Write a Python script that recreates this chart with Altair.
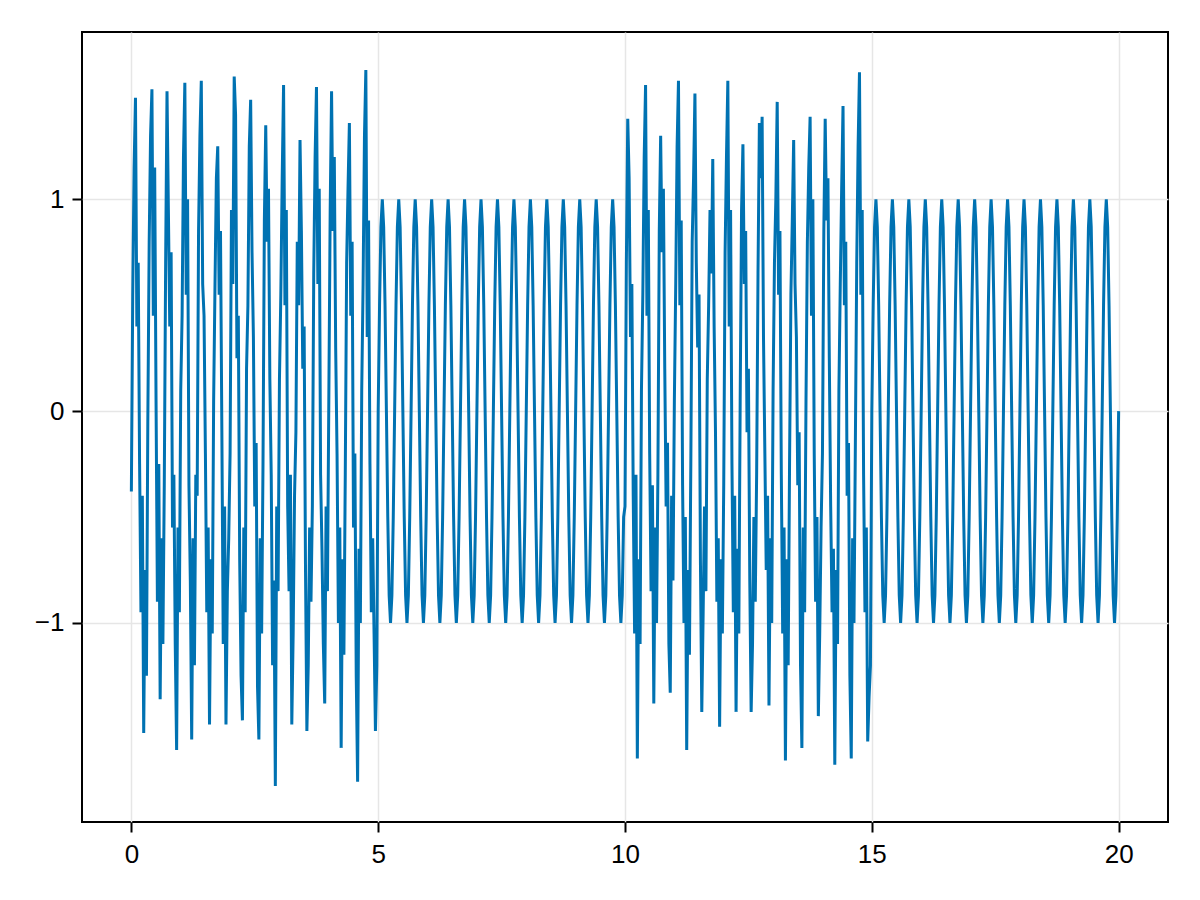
import altair as alt
import pandas as pd

# sampling step of the recording: 12 samples per 1/3 s cycle
STEP = 1 / 36

# 0 s – 5 s : noisy section (one row per cycle)
noisy_a = [
    -0.38, 0.55, 1.15, 1.48, 0.40, 0.70, -0.25, -0.95, -0.40, -1.52, -0.75, -1.25,
    -0.05, 0.80, 1.30, 1.52, 0.45, 1.15, 0.05, -0.90, -0.25, -1.36, -0.60, -1.10,
    -0.35, 0.70, 1.51, 0.95, 0.40, 0.75, -0.55, -0.30, -1.10, -1.60, -0.55, -0.95,
    0.10, 0.45, 1.20, 1.55, 0.55, 1.00, -0.35, -0.80, -1.55, -0.60, -1.20, -0.30,
    -0.40, 0.85, 1.30, 1.56, 0.60, 0.45, -0.20, -0.95, -0.55, -1.48, -0.70, -1.05,
    0.05, 0.60, 1.10, 1.25, 0.55, 0.85, -0.10, -1.10, -0.45, -1.48, -0.85, -0.60,
    -0.20, 0.95, 0.60, 1.58, 1.40, 0.25, 0.45, -0.70, -1.25, -1.46, -0.55, -0.95,
    0.20, 0.50, 1.25, 1.47, 0.75, 0.35, -0.45, -0.15, -1.30, -1.55, -0.60, -1.05,
    -0.25, 0.90, 1.35, 0.80, 1.05, 0.15, -0.30, -1.20, -0.80, -1.77, -0.45, -0.85,
    0.15, 0.55, 1.10, 1.54, 0.50, 0.95, -0.45, -0.85, -0.30, -1.48, -1.05, -0.40,
    -0.10, 0.80, 0.50, 1.28, 0.85, 0.20, 0.40, -0.75, -1.51, -1.20, -0.55, -0.90,
    -0.45, 0.65, 1.20, 1.53, 0.60, 1.05, -0.30, -0.65, -1.10, -1.38, -0.45, -0.85,
    0.05, 0.95, 1.51, 0.85, 1.20, 0.30, -0.20, -1.00, -0.55, -1.59, -0.70, -1.15,
    -0.30, 0.70, 1.05, 1.36, 0.45, 0.80, -0.55, -0.20, -1.25, -1.75, -0.65, -1.00,
    0.10, 0.60, 1.30, 1.61, 0.35, 0.90, -0.25, -0.95, -0.60, -1.05, -1.51, -1.20,
]

# one clean cycle as read from the steady sections (5–10 s and 15–20 s)
sine_cycle = [0.0, 0.5, 0.87, 1.0, 0.87, 0.5, 0.0, -0.5, -0.87, -1.0, -0.87, -0.5]
steady_a = sine_cycle * 15

# 10 s – 15 s : noisy section
noisy_b = [
    -0.45, 0.70, 1.38, 1.10, 0.35, 0.60, -0.40, -1.05, -0.30, -1.64, -0.70, -1.10,
    0.10, 0.55, 1.20, 1.54, 0.45, 0.95, -0.20, -0.85, -0.35, -1.38, -0.55, -1.00,
    -0.30, 0.85, 1.30, 0.75, 1.05, 0.20, -0.45, -0.15, -1.10, -1.33, -0.40, -0.80,
    0.05, 0.60, 1.25, 1.56, 0.50, 0.90, -0.35, -1.00, -0.50, -1.60, -0.75, -1.15,
    -0.25, 0.80, 1.10, 1.50, 0.70, 0.30, 0.55, -0.70, -1.42, -0.95, -0.45, -0.85,
    0.15, 0.50, 0.95, 0.65, 1.19, 0.40, -0.10, -0.90, -0.60, -1.49, -0.70, -1.05,
    -0.35, 0.75, 1.20, 1.56, 0.40, 0.95, -0.25, -0.95, -0.40, -1.42, -0.65, -1.05,
    0.05, 0.95, 1.26, 0.60, 0.85, -0.10, 0.20, -0.80, -1.42, -1.10, -0.50, -0.90,
    -0.30, 0.65, 1.36, 1.10, 1.39, 0.35, -0.20, -0.75, -0.40, -1.39, -0.60, -1.00,
    0.10, 0.70, 1.00, 1.46, 0.55, 0.85, -0.30, -1.05, -0.55, -1.65, -0.70, -1.20,
    -0.25, 0.55, 0.90, 1.28, 0.60, 0.35, -0.35, -0.10, -1.20, -1.59, -0.55, -0.95,
    0.05, 0.80, 1.15, 1.39, 0.45, 1.00, -0.20, -0.90, -0.50, -1.44, -1.05, -0.55,
    -0.20, 0.85, 1.38, 0.90, 1.10, 0.25, -0.45, -0.95, -0.65, -1.67, -0.75, -1.10,
    0.10, 0.60, 1.05, 1.44, 0.50, 0.80, -0.40, -0.15, -1.25, -1.64, -0.60, -1.00,
    -0.15, 0.70, 1.25, 1.60, 0.55, 0.95, -0.30, -0.95, -0.55, -1.56, -1.35, -1.20,
]

steady_b = sine_cycle * 15 + [0.0]

x_ticks = [0, 5, 10, 15, 20]
y_ticks = [-1, 0, 1]

values = noisy_a + steady_a + noisy_b + steady_b
times = [i * STEP for i in range(len(values))]
df = pd.DataFrame({"t": times, "v": values})

FONT = "Liberation Sans"

chart = (
    alt.Chart(df)
    .mark_line(color="#0072B2", strokeWidth=3, strokeJoin="miter", clip=True)
    .encode(
        x=alt.X(
            "t:Q",
            scale=alt.Scale(domain=[-1, 21], nice=False, zero=False),
            axis=alt.Axis(values=x_ticks, title=None, format="d",
                          labelFlush=False, labelPadding=9),
        ),
        y=alt.Y(
            "v:Q",
            scale=alt.Scale(domain=[-1.94, 1.79], nice=False, zero=False),
            axis=alt.Axis(
                values=y_ticks,
                title=None,
                format="d",
                labelPadding=8,
                labelExpr="replace(datum.label, '-', '\u2212')",
            ),
        ),
    )
    .properties(
        width=1086,
        height=790,
        padding={"left": 74, "top": 24, "right": 24, "bottom": 60},
        autosize=alt.AutoSizeParams(type="none"),
        background="white",
    )
    .configure_view(stroke="black", strokeWidth=2)
    .configure_axis(
        domain=False,
        grid=True,
        gridColor="#e6e6e6",
        gridWidth=1.5,
        ticks=True,
        tickColor="black",
        tickWidth=2,
        tickSize=10,
        labelFont=FONT,
        labelFontSize=26,
        labelColor="black",
    )
)

chart.save("out.html", embed_options={"renderer": "svg", "actions": False})
